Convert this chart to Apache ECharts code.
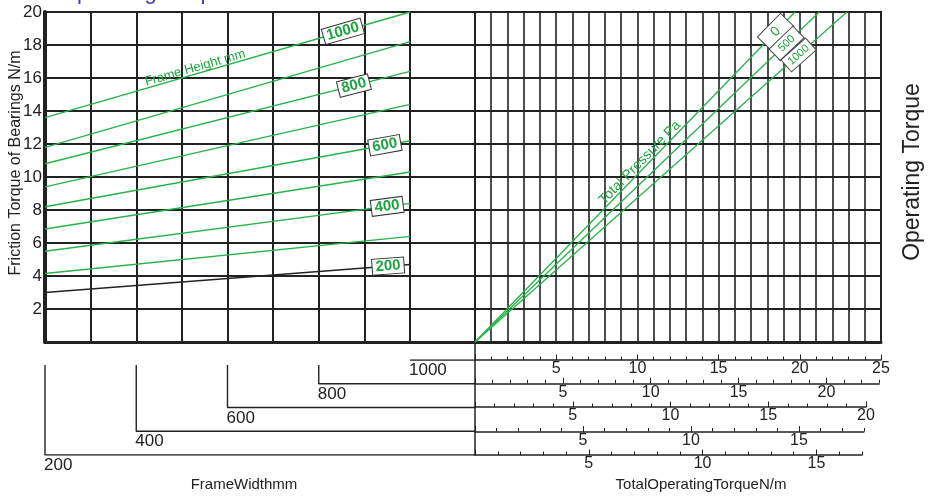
<!DOCTYPE html>
<html><head><meta charset="utf-8">
<script src="https://cdn.jsdelivr.net/npm/echarts@6.0.0/dist/echarts.min.js"></script>
<style>html,body{margin:0;padding:0;background:#fff}#c{width:939px;height:498px}</style>
</head><body><div id="c"></div>
<script>
// ---------------- data ----------------
const frictionRange = [0, 20];            // Friction Torque of Bearings N/m
const frictionStep = 2;
const frameWidthRange = [200, 1000];      // FrameWidthmm
const frameWidthStep = 100;
const frameHeights = [1000, 900, 800, 700, 600, 500, 400, 300, 200];
const frictionAtW200  = [13.6, 11.8, 10.8, 9.4, 8.2, 6.85, 5.5, 4.15, 3.0];
const frictionAtW1000 = [20.0, 18.2, 16.4, 14.4, 12.2, 10.3, 8.4, 6.4, 4.7];
const labeledHeights = [1000, 800, 600, 400, 200];
const pressures = [0, 500, 1000];           // Total Pressure Pa
const torqueAtFriction20 = [19.7, 21.2, 22.9];
const operatingTorqueRange = [0, 25];
const scaleFrameWidths = [1000, 800, 600, 400, 200];
const scaleMaxTorque = [25, 23, 20, 18, 17];
const torqueLabelStep = 5;

// ---------------- layout / style ----------------
const FONT = '"Liberation Sans", Arial, sans-serif';
const INK = '#222';
const GREEN = '#27b24a';
const GREEN_TXT = '#1ea33f';
const PLOT = {top: 12, height: 330};
const LEFT = {left: 45, width: 365};
const MID = {left: 410, width: 65};
const RIGHT = {left: 475, width: 406};
const SCALE_ROWS = [360, 383.3, 407, 431.5, 455];
const SCALE_PX = [16.24, 17.57, 19.55, 21.6, 22.76];
const BRACKET = {left: 45, top: 360, width: 430, height: 95, vTop: 0.21};
const heightLabelAt = {1000: 853, 800: 877, 600: 945, 400: 950, 200: 952};   // label centre, frame width units
const pressureLabelAt = {0: 18.8, 500: 18.1, 1000: 17.4};                   // label centre, friction units

const grids = [], xAxes = [], yAxes = [], series = [];
const G = {containLabel: false, outerBoundsMode: 'none'};
const off = {show: false};
const hiddenX = (gi, max) => ({gridIndex: gi, type: 'value', min: 0, max: max || 1, show: false});

// 0: left panel (frame width x friction)
grids.push(Object.assign({}, G, {left: LEFT.left, top: PLOT.top, width: LEFT.width, height: PLOT.height, show: true, borderColor: INK, borderWidth: 2}));
xAxes.push({gridIndex: 0, type: 'value', min: frameWidthRange[0], max: frameWidthRange[1], interval: frameWidthStep,
  axisLine: {show: true, onZero: false, lineStyle: {color: INK, width: 3}}, axisTick: off, axisLabel: off,
  splitLine: {show: true, lineStyle: {color: INK, width: 2}}});
yAxes.push({gridIndex: 0, type: 'value', min: frictionRange[0], max: frictionRange[1], interval: frictionStep,
  axisLine: {show: true, lineStyle: {color: INK, width: 4}}, axisTick: off,
  axisLabel: {show: true, margin: 3, fontSize: 17, color: INK, fontFamily: FONT, formatter: v => v === 0 ? '' : String(v)},
  splitLine: {show: true, lineStyle: {color: INK, width: 2}}});
// 1: middle column
grids.push(Object.assign({}, G, {left: MID.left, top: PLOT.top, width: MID.width, height: PLOT.height, show: true, borderColor: INK, borderWidth: 2}));
xAxes.push({gridIndex: 1, type: 'value', min: 0, max: 1, axisLine: {show: true, onZero: false, lineStyle: {color: INK, width: 3}}, axisTick: off, axisLabel: off, splitLine: off});
yAxes.push({gridIndex: 1, type: 'value', min: frictionRange[0], max: frictionRange[1], interval: frictionStep, axisLine: off, axisTick: off, axisLabel: off,
  splitLine: {show: true, lineStyle: {color: INK, width: 2}}});
// 2: right panel (operating torque x friction)
grids.push(Object.assign({}, G, {left: RIGHT.left, top: PLOT.top, width: RIGHT.width, height: PLOT.height, show: true, borderColor: INK, borderWidth: 2}));
xAxes.push({gridIndex: 2, type: 'value', min: operatingTorqueRange[0], max: operatingTorqueRange[1], interval: 1,
  axisLine: {show: true, onZero: false, lineStyle: {color: INK, width: 3}}, axisTick: off, axisLabel: off,
  splitLine: {show: true, lineStyle: {color: INK, width: 1.6}}});
yAxes.push({gridIndex: 2, type: 'value', min: frictionRange[0], max: frictionRange[1], interval: frictionStep,
  axisLine: {show: true, lineStyle: {color: INK, width: 2}}, axisTick: off, axisLabel: off,
  splitLine: {show: true, lineStyle: {color: INK, width: 2}}});
// 3: frame-width brackets under the left panel
const bxMax = frameWidthRange[0] + (frameWidthRange[1] - frameWidthRange[0]) * BRACKET.width / LEFT.width;
grids.push(Object.assign({}, G, {left: BRACKET.left, top: BRACKET.top, width: BRACKET.width, height: BRACKET.height}));
xAxes.push({gridIndex: 3, type: 'value', min: frameWidthRange[0], max: bxMax, show: false});
yAxes.push({gridIndex: 3, type: 'value', min: 0, max: scaleFrameWidths.length - 1, inverse: true, show: false});

// torque scales (minor ticks + labels, and major ticks)
scaleMaxTorque.forEach((mx, k) => {
  const ppu = SCALE_PX[k], rowY = SCALE_ROWS[k];
  const gMinor = grids.length;
  grids.push(Object.assign({}, G, {left: RIGHT.left, top: rowY - 1, width: mx * ppu, height: 1}));
  xAxes.push({gridIndex: gMinor, type: 'value', position: 'bottom', min: 0, max: mx, interval: 1,
    axisLine: {show: true, onZero: false, lineStyle: {color: INK, width: 1.5}},
    axisTick: {show: true, inside: true, length: 3.5, lineStyle: {color: INK, width: 1}},
    axisLabel: {show: true, margin: 1, fontSize: 16, color: INK, fontFamily: FONT,
      formatter: v => (v > 0 && v % torqueLabelStep === 0) ? String(v) : ''},
    splitLine: off});
  yAxes.push({gridIndex: gMinor, type: 'value', show: false, min: 0, max: 1});
  const majMax = Math.floor(mx / torqueLabelStep) * torqueLabelStep;
  const gMajor = grids.length;
  grids.push(Object.assign({}, G, {left: RIGHT.left, top: rowY - 1, width: majMax * ppu, height: 1}));
  xAxes.push({gridIndex: gMajor, type: 'value', position: 'bottom', min: 0, max: majMax, interval: torqueLabelStep,
    axisLine: {show: false, onZero: false}, axisTick: {show: true, inside: true, length: 5.5, lineStyle: {color: INK, width: 1}},
    axisLabel: off, splitLine: off});
  yAxes.push({gridIndex: gMajor, type: 'value', show: false, min: 0, max: 1});
});
// vertical connector under the origin of the right panel
const gV = grids.length;
grids.push(Object.assign({}, G, {left: RIGHT.left, top: PLOT.top + PLOT.height, width: 10, height: SCALE_ROWS[SCALE_ROWS.length - 1] - PLOT.top - PLOT.height}));
xAxes.push(hiddenX(gV));
yAxes.push({gridIndex: gV, type: 'value', min: 0, max: 1, axisLine: {show: true, onZero: false, lineStyle: {color: INK, width: 1.5}}, axisTick: off, axisLabel: off, splitLine: off});

// ---------------- series ----------------
frameHeights.forEach((h, i) => {
  series.push({name: 'H' + h, type: 'line', xAxisIndex: 0, yAxisIndex: 0, symbol: 'none', silent: true, z: 5,
    data: [[frameWidthRange[0], frictionAtW200[i]], [frameWidthRange[1], frictionAtW1000[i]]],
    lineStyle: {color: h === 200 ? INK : GREEN, width: 1.4}});
});
pressures.forEach((p, i) => {
  series.push({name: 'P' + p, type: 'line', xAxisIndex: 2, yAxisIndex: 2, symbol: 'none', silent: true, z: 5,
    data: [[0, 0], [torqueAtFriction20[i], frictionRange[1]]],
    lineStyle: {color: GREEN, width: 1.3}});
});
scaleFrameWidths.forEach((fw, row) => {
  const data = row === 0 ? [[fw, row], [bxMax, row]] : [[fw, BRACKET.vTop], [fw, row], [bxMax, row]];
  series.push({type: 'line', xAxisIndex: 3, yAxisIndex: 3, symbol: 'none', silent: true, data,
    lineStyle: {color: INK, width: 1.4}});
});

const staticGraphics = [
  {type: 'text', x: 60, y: -7, style: {text: 'Operating Torque', fill: '#3d3bb0', font: '22px ' + FONT, align: 'left', verticalAlign: 'middle'}},
  {type: 'text', x: 16, y: 163, rotation: Math.PI / 2, style: {text: 'Friction Torque of Bearings N/m', fill: INK, font: '16px ' + FONT, align: 'center', verticalAlign: 'middle'}},
  {type: 'text', x: 913, y: 172, rotation: Math.PI / 2, style: {text: 'Operating Torque', fill: INK, font: '23px ' + FONT, align: 'center', verticalAlign: 'middle'}},
  {type: 'text', x: 244, y: 485, style: {text: 'FrameWidthmm', fill: INK, font: '15px ' + FONT, align: 'center', verticalAlign: 'middle'}},
  {type: 'text', x: 701, y: 485, style: {text: 'TotalOperatingTorqueN/m', fill: INK, font: '15px ' + FONT, align: 'center', verticalAlign: 'middle'}}
];

const chart = echarts.init(document.getElementById('c'));
chart.setOption({animation: false, backgroundColor: '#fff', textStyle: {fontFamily: FONT},
  grid: grids, xAxis: xAxes, yAxis: yAxes, series, graphic: staticGraphics});

// ---------------- labels placed through the axes ----------------
function along(xi, yi, a, b, t, offset, style) {
  const p0 = chart.convertToPixel({xAxisIndex: xi, yAxisIndex: yi}, a);
  const p1 = chart.convertToPixel({xAxisIndex: xi, yAxisIndex: yi}, b);
  const ang = Math.atan2(-(p1[1] - p0[1]), p1[0] - p0[0]);
  const x = p0[0] + (p1[0] - p0[0]) * t - Math.sin(ang) * offset;
  const y = p0[1] + (p1[1] - p0[1]) * t - Math.cos(ang) * offset;
  return {type: 'text', x, y, rotation: ang, z: 100, style: Object.assign({align: 'center', verticalAlign: 'middle'}, style)};
}
const extra = [];
frameHeights.forEach((h, i) => {
  const a = [frameWidthRange[0], frictionAtW200[i]], b = [frameWidthRange[1], frictionAtW1000[i]];
  if (labeledHeights.indexOf(h) >= 0) {
    const t = (heightLabelAt[h] - frameWidthRange[0]) / (frameWidthRange[1] - frameWidthRange[0]);
    extra.push(along(0, 0, a, b, t, 0, {text: String(h), fill: GREEN_TXT, font: 'bold 15px ' + FONT,
      backgroundColor: '#fff', borderColor: '#333', borderWidth: 1, padding: [0, 3]}));
  }
  if (h === 1000) {
    extra.push(along(0, 0, a, b, 0.416, 6, {text: 'Frame Height mm', fill: GREEN_TXT, font: '13px ' + FONT}));
  }
});
pressures.forEach((p, i) => {
  const a = [0, 0], b = [torqueAtFriction20[i], frictionRange[1]];
  extra.push(along(2, 2, a, b, pressureLabelAt[p] / frictionRange[1], 0, {text: String(p), fill: GREEN_TXT,
    font: (p === 0 ? '14px ' : '11px ') + FONT, width: 26, backgroundColor: '#fff', borderColor: '#444', borderWidth: 1, padding: [2, 3]}));
  if (p === 0) {
    extra.push(along(2, 2, a, b, 0.53, 6.5, {text: 'Total Pressure Pa', fill: GREEN_TXT, font: '14px ' + FONT}));
  }
});
scaleFrameWidths.forEach((fw, row) => {
  const pt = chart.convertToPixel({xAxisIndex: 3, yAxisIndex: 3}, [fw, row]);
  extra.push({type: 'text', x: pt[0] - 1, y: pt[1] + 2, z: 100,
    style: {text: String(fw), fill: INK, font: '17px ' + FONT, align: 'left', verticalAlign: 'top'}});
});
chart.setOption({graphic: staticGraphics.concat(extra)});
</script></body></html>
